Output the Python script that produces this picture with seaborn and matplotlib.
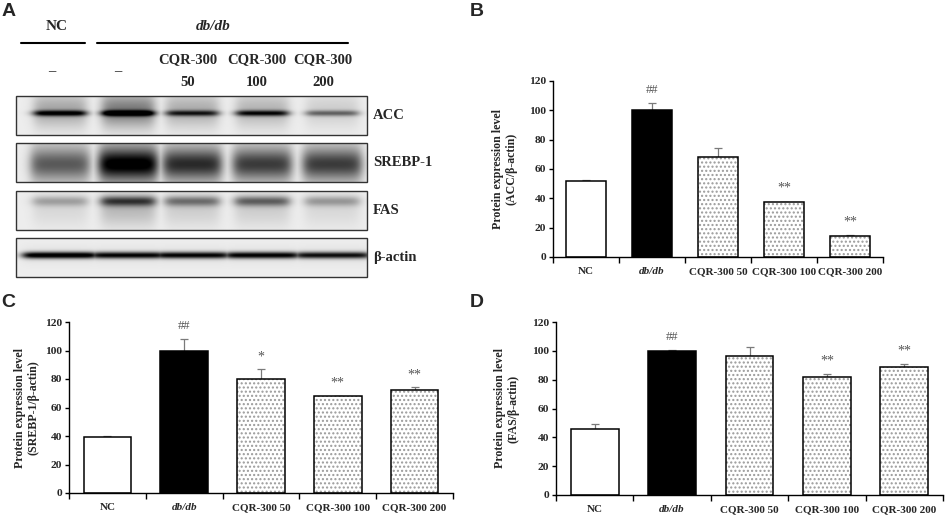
import numpy as np
import pandas as pd
import matplotlib
matplotlib.use('Agg')
import matplotlib.pyplot as plt
from matplotlib.patches import Rectangle
import seaborn as sns

# bar chart data
groups = ['NC', 'db/db', 'CQR-300 50', 'CQR-300 100', 'CQR-300 200']
bar_fill = ['white', 'black', 'white', 'white', 'white']

acc_mean = [52, 100, 68.5, 37.2, 14.3]
acc_err = [0.5, 5, 6, 0.5, 0.5]
acc_marks = ['', '##', '', '**', '**']

srebp_mean = [39.6, 100, 80.2, 68.1, 72.6]
srebp_err = [0.5, 8, 6.5, 0.3, 1.5]
srebp_marks = ['', '##', '*', '**', '**']

fas_mean = [46, 100, 96.5, 81.8, 89.1]
fas_err = [3.2, 0.8, 6.5, 1.8, 2.0]
fas_marks = ['', '##', '', '**', '**']

# western blot (panel A): band darkness per lane, 0..1
blot_names = ['ACC', 'SREBP-1', 'FAS', 'β-actin']
acc_band = [0.8, 0.95, 0.65, 0.75, 0.45]
acc_smear = [0.28, 0.45, 0.25, 0.22, 0.12]
srebp_band = [0.38, 0.7, 0.55, 0.5, 0.5]
srebp_smear = [0.2, 0.3, 0.22, 0.2, 0.2]
fas_band = [0.25, 0.6, 0.42, 0.48, 0.28]
fas_smear = [0.08, 0.2, 0.12, 0.12, 0.08]
actin_band = [1.0, 0.9, 0.9, 0.92, 0.85]
actin_smear = [0.05, 0.05, 0.05, 0.05, 0.05]
lane_dose_top = ['', '', 'CQR-300', 'CQR-300', 'CQR-300']
lane_dose_bottom = ['–', '–', '50', '100', '200']

sns.set_style('ticks')
plt.rcParams['font.family'] = ['Liberation Serif', 'DejaVu Serif']
plt.rcParams['font.weight'] = 'bold'

W, H = 948, 518
fig = plt.figure(figsize=(W / 100, H / 100), dpi=100)


def px_axes(x0, y0, x1, y1):
    return fig.add_axes([x0 / W, 1 - y1 / H, (x1 - x0) / W, (y1 - y0) / H])


# ---------- panel A: blot ----------
axA = px_axes(0, 0, 465, 290)
axA.axis('off')

lane_x = [60, 128, 192, 262, 332]
label_x = [52, 118, 188, 257, 323]
blot_left, blot_right, blot_h = 16, 367, 39
blot_tops = [96, 143, 191, 238]


def blot_image(band, smear, band_y, band_sig, smear_y, smear_sig, half_w):
    xs = np.arange(blot_left, blot_right, 0.5)
    ys = np.arange(0, blot_h, 0.5)
    X, Y = np.meshgrid(xs, ys)
    img = np.zeros(X.shape)
    for cx, b, s in zip(lane_x, band, smear):
        across = 1 / (1 + np.exp(-(half_w - np.abs(X - cx)) / 3))
        lane = across * (b * np.exp(-0.5 * ((Y - band_y) / band_sig) ** 2)
                         + s * np.exp(-0.5 * ((Y - smear_y) / smear_sig) ** 2))
        img = np.maximum(img, lane)
    return np.clip(img + 0.07, 0, 1)


blots = [
    blot_image(acc_band, acc_smear, 17, 2.0, 14, 12, 26),
    blot_image(srebp_band, srebp_smear, 21, 10, 20, 22, 29),
    blot_image(fas_band, fas_smear, 10, 3.5, 18, 12, 27),
    blot_image(actin_band, actin_smear, 17, 2.3, 17, 6, 37),
]
for img, top, name in zip(blots, blot_tops, blot_names):
    axA.imshow(img, cmap='gray_r', vmin=0, vmax=1, aspect='auto',
               interpolation='bilinear',
               extent=(blot_left, blot_right, top + blot_h, top))
    axA.add_patch(Rectangle((blot_left, top), blot_right - blot_left, blot_h,
                            fill=False, ec='#333333', lw=1))
    axA.text(373, top + blot_h / 2, name, ha='left', va='center', fontsize=10.5)
axA.set_xlim(0, 465)
axA.set_ylim(290, 0)

axA.text(57, 27, 'NC', ha='center', va='center', fontsize=11)
axA.text(213, 27, 'db/db', ha='center', va='center', fontsize=11, style='italic')
axA.plot([21, 85], [43, 43], color='black', lw=1.5)
axA.plot([97, 348], [43, 43], color='black', lw=1.5)
for x, t, b in zip(label_x, lane_dose_top, lane_dose_bottom):
    axA.text(x, 60, t, ha='center', va='center', fontsize=10.5)
    axA.text(x, 72 if b == '–' else 82, b, ha='center', va='center', fontsize=10.5)


# ---------- panels B, C, D ----------
def bar_panel(ax, means, errs, marks, ylabel, labelpad):
    df = pd.DataFrame({'group': groups, 'value': means})
    sns.barplot(data=df, x='group', y='value', hue='group', palette=bar_fill,
                legend=False, width=0.62, edgecolor='black', linewidth=1.1,
                errorbar=None, ax=ax, zorder=2)
    for i, p in enumerate(ax.patches):
        if i >= 2:
            p.set_hatch('....')
            p.set_edgecolor('#9a9a9a')
            p.set_linewidth(0)
            ax.add_patch(Rectangle(p.get_xy(), p.get_width(), p.get_height(),
                                   fill=False, ec='black', lw=1.1, zorder=3))
    ax.errorbar(range(len(groups)), means, yerr=[np.zeros(len(errs)), errs],
                fmt='none', ecolor='#7a7a7a', elinewidth=0.9, capsize=3,
                capthick=0.9, zorder=1)
    for i, (m, e, t) in enumerate(zip(means, errs, marks)):
        if t:
            ax.text(i, m + e + 9, t, ha='center', va='center',
                    fontsize=9 if t == '##' else 10,
                    color='#555555', fontweight='normal')
    ax.set_ylim(0, 120)
    ax.set_xlim(-0.5, len(groups) - 0.5)
    ax.set_yticks(range(0, 121, 20))
    ax.set_xticks(np.arange(-0.5, len(groups)), minor=True)
    ax.tick_params(axis='y', length=3, width=1, labelsize=8.2, pad=2, color='black')
    ax.tick_params(axis='x', which='major', length=0, labelsize=8.0, pad=7)
    ax.tick_params(axis='x', which='minor', length=4, width=1, color='black')
    ax.get_xticklabels()[1].set_style('italic')
    ax.set_xlabel('')
    ax.set_ylabel(ylabel, fontsize=8.6, fontweight='bold', labelpad=labelpad)
    for s in ['top', 'right']:
        ax.spines[s].set_visible(False)
    for s in ['left', 'bottom']:
        ax.spines[s].set_color('black')
        ax.spines[s].set_linewidth(1)


axB = px_axes(553, 81, 883, 257)
bar_panel(axB, acc_mean, acc_err, acc_marks, 'Protein expression level\n(ACC/β-actin)', 8)
axC = px_axes(69, 322, 453, 493)
bar_panel(axC, srebp_mean, srebp_err, srebp_marks, 'Protein expression level\n(SREBP-1/β-actin)', 4)
axD = px_axes(556, 322, 943, 495)
bar_panel(axD, fas_mean, fas_err, fas_marks, 'Protein expression level\n(FAS/β-actin)', 9)

for letter, x, y in [('A', 2, 3), ('B', 470, 3), ('C', 1, 294), ('D', 470, 294)]:
    fig.text(x / W, 1 - y / H, letter, ha='left', va='top', fontsize=14,
             fontweight='bold', family='Liberation Sans')

fig.savefig('out.png', dpi=100)
